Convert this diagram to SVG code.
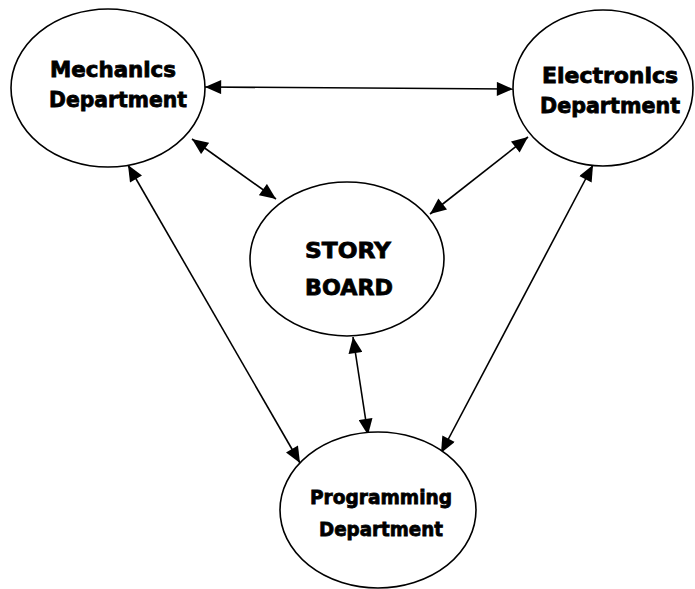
<svg xmlns="http://www.w3.org/2000/svg" width="695" height="589" viewBox="0 0 695 589">
<style>
.node ellipse{fill:#fff;stroke:#000;stroke-width:1.6}
.node text{font-family:"DejaVu Sans","Liberation Sans",sans-serif;font-weight:bold;fill:#000;stroke:#000;stroke-width:0.8;text-anchor:middle}
.conn line{stroke:#000;stroke-width:1.6;marker-start:url(#ah);marker-end:url(#ah)}
</style>
<defs>
<marker id="ah" markerUnits="userSpaceOnUse" markerWidth="17" markerHeight="14" refX="15" refY="6.5" orient="auto-start-reverse" viewBox="0 0 15 13">
<path d="M0,0 L15,6.5 L0,13 Z" fill="#000"/>
</marker>
</defs>
<rect width="695" height="589" fill="#fff"/>
<g id="connectors" class="conn">
<line x1="205" y1="87" x2="513" y2="89"/>
<line x1="192" y1="139" x2="276" y2="199"/>
<line x1="528" y1="137" x2="430" y2="214"/>
<line x1="353" y1="337" x2="368" y2="435"/>
<line x1="128" y1="165" x2="300" y2="463"/>
<line x1="593" y1="165" x2="441" y2="453"/>
</g>
<g id="mechanics" class="node">
<ellipse cx="108" cy="88" rx="97" ry="79"/>
<text x="113" y="77" font-size="21" textLength="126" lengthAdjust="spacingAndGlyphs">Mechanics</text>
<text x="118" y="107" font-size="21" textLength="138" lengthAdjust="spacingAndGlyphs">Department</text>
</g>
<g id="electronics" class="node">
<ellipse cx="603" cy="88" rx="90" ry="78"/>
<text x="610" y="83" font-size="21" textLength="136" lengthAdjust="spacingAndGlyphs">Electronics</text>
<text x="610" y="113" font-size="21" textLength="140" lengthAdjust="spacingAndGlyphs">Department</text>
</g>
<g id="storyboard" class="node">
<ellipse cx="347" cy="259" rx="97" ry="77"/>
<text x="348" y="258" font-size="21.5" textLength="86" lengthAdjust="spacingAndGlyphs">STORY</text>
<text x="349" y="295" font-size="21.5" textLength="88" lengthAdjust="spacingAndGlyphs">BOARD</text>
</g>
<g id="programming" class="node">
<ellipse cx="378" cy="510" rx="98" ry="78"/>
<text x="381" y="504" font-size="19.5" textLength="142" lengthAdjust="spacingAndGlyphs">Programming</text>
<text x="381" y="536" font-size="19.5" textLength="124" lengthAdjust="spacingAndGlyphs">Department</text>
</g>
</svg>
